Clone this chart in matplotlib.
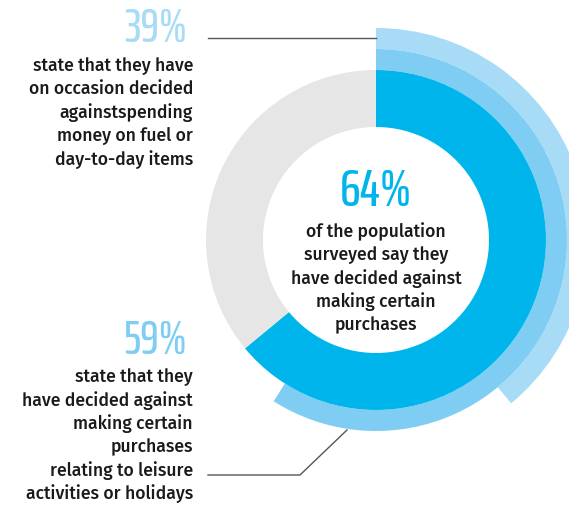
import matplotlib
matplotlib.use("Agg")
import matplotlib.pyplot as plt

# data
inner_share = [64, 36]      # population deciding against purchases
middle_share = [59, 41]     # leisure / holidays
outer_share = [39, 61]      # fuel / day-to-day items

big_labels = ["39%", "59%", "64%"]
block_39 = ["state that they have", "on occasion decided", "againstspending",
            "money on fuel or", "day-to-day items"]
block_59 = ["state that they", "have decided against", "making certain",
            "purchases", "relating to leisure", "activities or holidays"]
block_64 = ["of the population", "surveyed say they", "have decided against",
            "making certain", "purchases"]

BLUE = "#00b5ec"
MID = "#7fcdf3"
LIGHT = "#a8dbf6"
GRAY = "#e6e6e6"
TXT = "#1a1a1a"

W, H = 569, 505
fig = plt.figure(figsize=(W / 100, H / 100), dpi=100)
ax = fig.add_axes([0, 0, 1, 1])

def Y(y):
    return H - y

cx, cy = 376, Y(240)

ax.pie(outer_share, radius=212, center=(cx, cy), startangle=90, counterclock=False,
       colors=[LIGHT, "none"], wedgeprops=dict(width=21, linewidth=0))
ax.pie(middle_share, radius=191, center=(cx, cy), startangle=90, counterclock=False,
       colors=[MID, "none"], wedgeprops=dict(width=21, linewidth=0))
ax.pie(inner_share, radius=170, center=(cx, cy), startangle=90, counterclock=False,
       colors=[BLUE, GRAY], wedgeprops=dict(width=57, linewidth=0))

ax.set_xlim(0, W)
ax.set_ylim(0, H)
ax.set_aspect("equal")
ax.axis("off")

num_font = ["Saira ExtraCondensed", "Saira Extra Condensed", "Barlow Condensed", "DejaVu Sans"]
body_font = ["Fira Sans", "DejaVu Sans"]

# 39%
ax.text(187, Y(29), big_labels[0], ha="right", va="center", fontsize=34,
        color=LIGHT, family=num_font, weight=500)
ax.plot([208, cx], [Y(38), Y(38)], color="#555555", lw=1)
for i, line in enumerate(block_39):
    ax.text(193, Y(66 + i * 23.3), line, ha="right", va="center", fontsize=12.7,
            color=TXT, family=body_font, weight=500)

# 59%
ax.text(187, Y(341), big_labels[1], ha="right", va="center", fontsize=34,
        color=MID, family=num_font, weight=500)
for i, line in enumerate(block_59):
    ax.text(193, Y(377 + i * 23.3), line, ha="right", va="center", fontsize=12.7,
            color=TXT, family=body_font, weight=500)
ax.plot([208, 300, 347], [Y(475), Y(475), Y(430)], color="#555555", lw=1)

# 64%
ax.text(cx, Y(192), big_labels[2], ha="center", va="center", fontsize=38,
        color=BLUE, family=num_font, weight=500)
for i, line in enumerate(block_64):
    ax.text(cx, Y(232 + i * 23.3), line, ha="center", va="center", fontsize=12.7,
            color=TXT, family=body_font, weight=500)

fig.savefig("out.png", dpi=100)
